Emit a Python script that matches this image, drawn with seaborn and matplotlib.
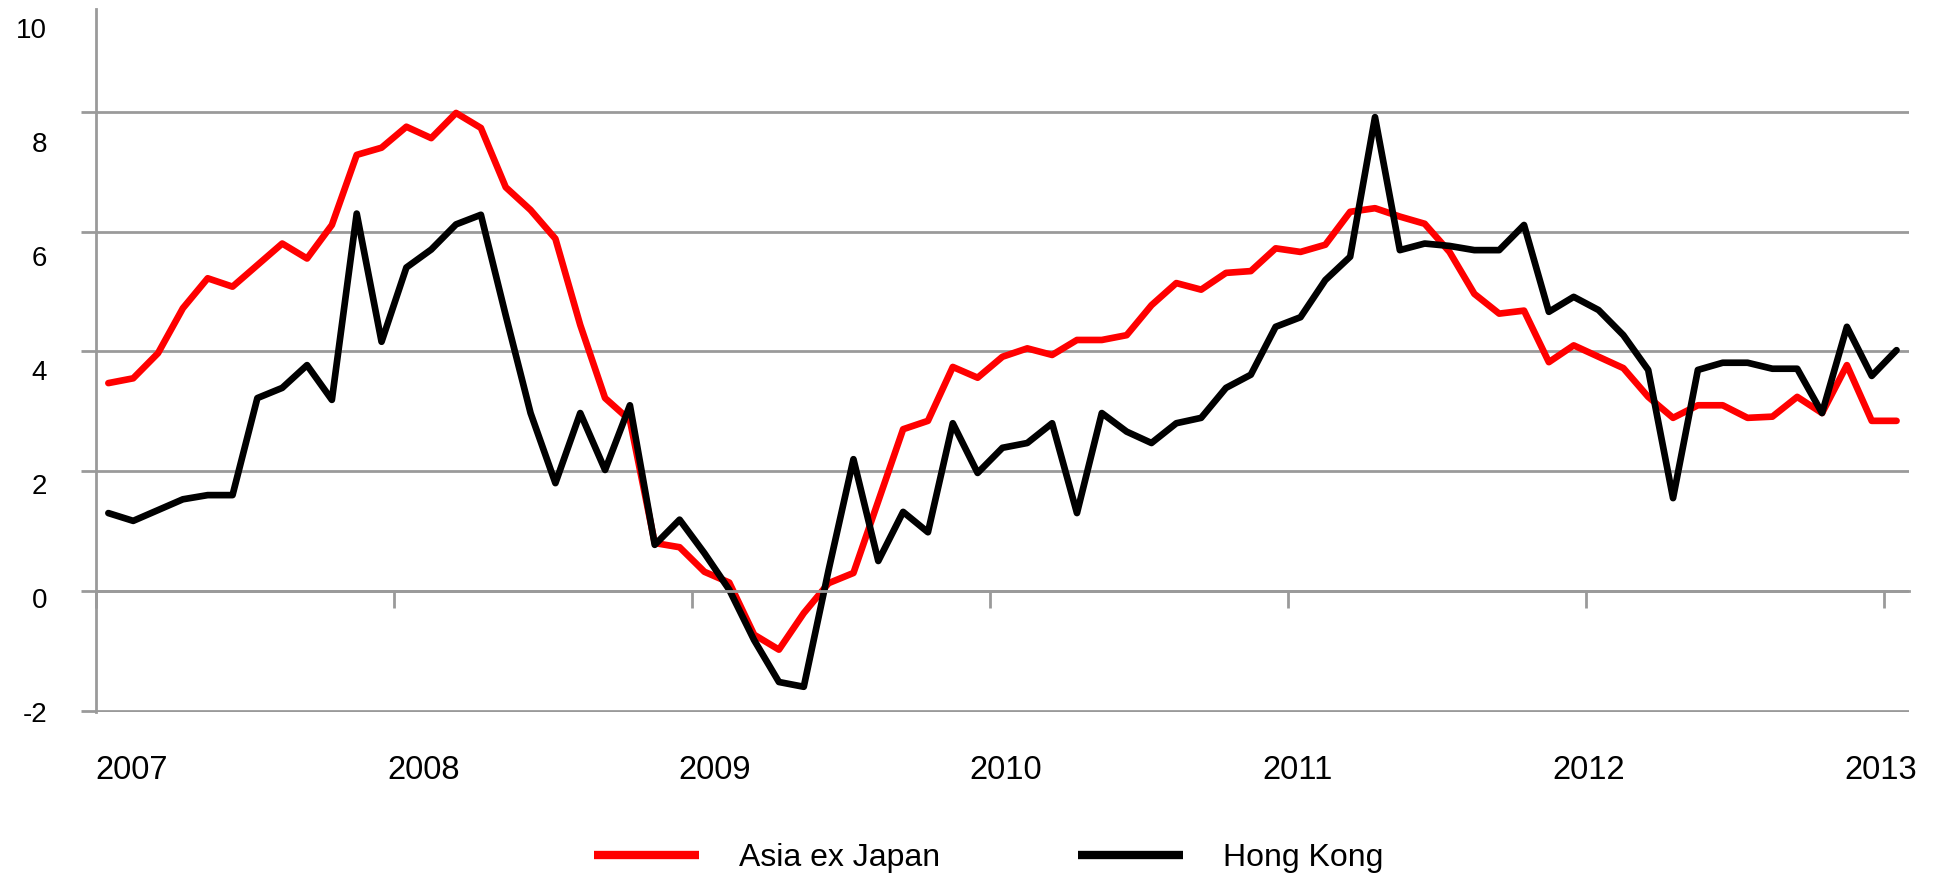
import matplotlib
matplotlib.use('Agg')
import matplotlib.pyplot as plt
import seaborn as sns
import pandas as pd
import numpy as np

# monthly readings, Jan 2007 .. Jan 2013
asia_ex_japan = [3.47, 3.55, 3.97, 4.72, 5.22, 5.08, 5.44, 5.80, 5.55, 6.11,
                 7.28, 7.40, 7.75, 7.56, 7.98, 7.73, 6.74, 6.36, 5.88, 4.44,
                 3.22, 2.85, 0.80, 0.73, 0.32, 0.14, -0.73, -0.98, -0.37, 0.13,
                 0.30, 1.50, 2.70, 2.84, 3.74, 3.56, 3.91, 4.05, 3.94, 4.19,
                 4.19, 4.27, 4.77, 5.14, 5.03, 5.31, 5.34, 5.72, 5.66, 5.78,
                 6.33, 6.39, 6.25, 6.13, 5.66, 4.96, 4.63, 4.68, 3.82, 4.10,
                 3.91, 3.72, 3.24, 2.89, 3.10, 3.10, 2.89, 2.91, 3.24, 2.97,
                 3.77, 2.84, 2.84]
hong_kong = [1.30, 1.17, 1.35, 1.53, 1.60, 1.60, 3.22, 3.39, 3.77, 3.19,
             6.30, 4.16, 5.40, 5.70, 6.12, 6.28, 4.60, 2.97, 1.80, 2.97,
             2.02, 3.10, 0.77, 1.19, 0.63, 0.02, -0.82, -1.52, -1.60, 0.35,
             2.20, 0.50, 1.32, 0.98, 2.80, 1.97, 2.39, 2.47, 2.80, 1.30,
             2.97, 2.66, 2.47, 2.80, 2.89, 3.39, 3.61, 4.41, 4.57, 5.19,
             5.58, 7.91, 5.69, 5.80, 5.76, 5.69, 5.69, 6.11, 4.66, 4.91,
             4.69, 4.27, 3.69, 1.55, 3.69, 3.81, 3.81, 3.71, 3.71, 2.97,
             4.41, 3.59, 4.02]
years = [2007, 2008, 2009, 2010, 2011, 2012, 2013]
y_labels = [-2, 0, 2, 4, 6, 8, 10]
series_names = ['Asia ex Japan', 'Hong Kong']
colors = {'Asia ex Japan': '#ff0000', 'Hong Kong': '#000000'}

n = len(asia_ex_japan)
df = pd.DataFrame({
    'month': list(range(n)) * 2,
    'value': asia_ex_japan + hong_kong,
    'series': [series_names[0]] * n + [series_names[1]] * n,
})

sns.set_style('white')
plt.rcParams['font.family'] = ['Liberation Sans', 'DejaVu Sans']
grey = '#9a9a9a'

fig = plt.figure(figsize=(19.42, 8.77), dpi=100)
ax = fig.add_axes([0.0494, 0.1882, 0.9336, 0.8015])

sns.lineplot(data=df, x='month', y='value', hue='series', hue_order=series_names,
             palette=colors, linewidth=4.8, ax=ax, legend=False,
             solid_joinstyle='round', solid_capstyle='round')

ax.set_xlim(-0.5, n - 0.5)
ax.set_ylim(-2.02, 9.715)
ax.set_xlabel('')
ax.set_ylabel('')

# horizontal grid + short y tick stubs
ax.set_yticks([-2, 0, 2, 4, 6, 8])
ax.yaxis.grid(True, color=grey, linewidth=2)
ax.xaxis.grid(False)
ax.tick_params(axis='y', left=True, length=11, width=2, color=grey, labelleft=False)

# x axis sits on zero with year ticks hanging down
ax.spines['bottom'].set_position(('data', 0))
ax.spines['bottom'].set_color(grey)
ax.spines['bottom'].set_linewidth(2)
ax.set_xticks([-0.5 + 12 * k for k in range(len(years))])
ax.tick_params(axis='x', bottom=True, direction='out', length=12, width=2,
               color=grey, labelbottom=False)
ax.spines['left'].set_color(grey)
ax.spines['left'].set_linewidth(2)
ax.spines['top'].set_visible(False)
ax.spines['right'].set_visible(False)

# labels (slightly offset from the ticks, as in the source chart)
sec_y = ax.secondary_yaxis('left', functions=(lambda p: 0.1175 + 1.0516 * p,
                                              lambda v: (v - 0.1175) / 1.0516))
sec_y.set_yticks(y_labels)
sec_y.set_yticklabels([str(v) for v in y_labels])
sec_y.tick_params(length=0, pad=35, labelsize=20, labelcolor='black')
sec_y.spines['left'].set_visible(False)

sec_x = ax.secondary_xaxis('bottom', functions=(lambda i: 2007 + (i - 0.95) / 11.733,
                                                lambda y: 0.95 + (y - 2007) * 11.733))
sec_x.set_xticks(years)
sec_x.set_xticklabels([str(y) for y in years])
sec_x.tick_params(length=0, pad=31, labelsize=23.5, labelcolor='black')
sec_x.spines['bottom'].set_visible(False)

handles = [plt.Line2D([], [], color=colors[s], linewidth=6, solid_capstyle='butt')
           for s in series_names]
leg = fig.legend(handles, series_names, loc='center', bbox_to_anchor=(0.509, 0.0217),
                 ncol=2, frameon=False, fontsize=23, handlelength=3.3,
                 handletextpad=1.25, columnspacing=4.3, borderpad=0)
for t in leg.get_texts():
    t.set_color('black')

fig.savefig('out.png', dpi=100)
